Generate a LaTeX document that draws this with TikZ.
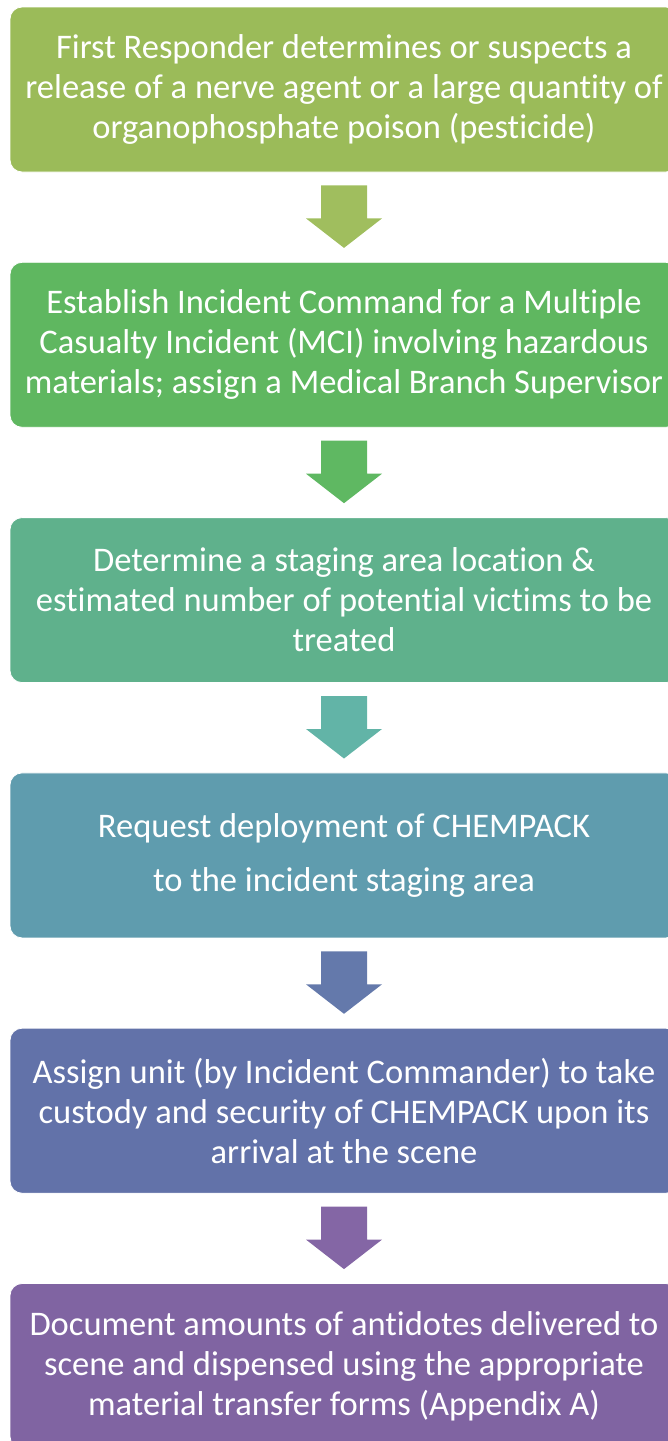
\documentclass[tikz,border=0pt]{standalone}
\usepackage{fontspec}
\setmainfont{Carlito}[Ligatures={NoCommon}]
\usetikzlibrary{calc}

\definecolor{boxA}{HTML}{9BBB59}
\definecolor{boxB}{HTML}{5FB760}
\definecolor{boxC}{HTML}{5FB18C}
\definecolor{boxD}{HTML}{5F9CAE}
\definecolor{boxE}{HTML}{6272A9}
\definecolor{boxF}{HTML}{8064A2}
\definecolor{arrA}{HTML}{A0BE5E}
\definecolor{arrB}{HTML}{5FB862}
\definecolor{arrC}{HTML}{62B4A7}
\definecolor{arrD}{HTML}{6479AB}
\definecolor{arrE}{HTML}{8466A5}

\begin{document}
\begin{tikzpicture}[x=1pt, y=1pt,
  stepbox/.style={rounded corners=12pt, draw=white, line width=0.8pt, minimum width=668pt, minimum height=165pt,
    inner sep=0pt, align=center, text=white, font=\fontsize{34.5}{40}\selectfont}]
\useasboundingbox (0,0) rectangle (667,-1441);

% Steps of the procedure
\node[stepbox, fill=boxA] (s1) at (344,-89.5) {First Responder determines or suspects a\\release of a nerve agent or a large quantity of\\organophosphate poison (pesticide)};
\node[stepbox, fill=boxB] (s2) at (344,-344.8) {Establish Incident Command for a Multiple\\Casualty Incident (MCI) involving hazardous\\materials; assign a Medical Branch Supervisor};
\node[stepbox, fill=boxC] (s3) at (344,-600.1) {Determine a staging area location \&\\estimated number of potential victims to be\\treated};
\node[stepbox, fill=boxD] (s4) at (344,-855.4) {Request deployment of CHEMPACK\\[14pt]to the incident staging area};
\node[stepbox, fill=boxE] (s5) at (344,-1110.7) {Assign unit (by Incident Commander) to take\\custody and security of CHEMPACK upon its\\arrival at the scene};
\node[stepbox, fill=boxF] (s6) at (344,-1366) {Document amounts of antidotes delivered to\\scene and dispensed using the appropriate\\material transfer forms (Appendix A)};

% Block arrows between the steps
\foreach \a/\b/\c in {s1/s2/arrA, s2/s3/arrB, s3/s4/arrC, s4/s5/arrD, s5/s6/arrE} {
  \fill[\c] ($(\a.south)+(-23,-13)$) -- ($(\a.south)+(23,-13)$) -- ($(\a.south)+(23,-46)$)
    -- ($(\a.south)+(38,-46)$) -- ($(\b.north)+(0,14)$) -- ($(\a.south)+(-38,-46)$)
    -- ($(\a.south)+(-23,-46)$) -- cycle;
}
\end{tikzpicture}
\end{document}
